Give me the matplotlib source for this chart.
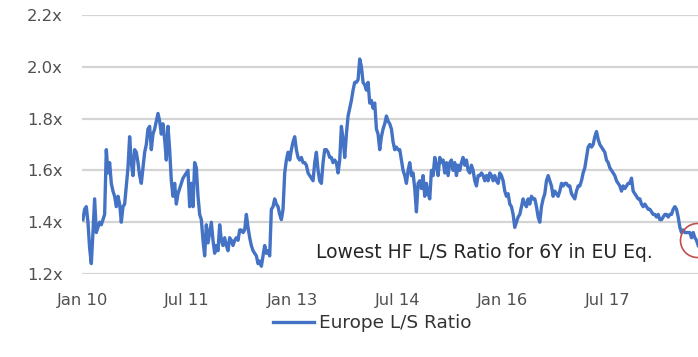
import matplotlib
matplotlib.use("Agg")
import matplotlib.pyplot as plt
import pandas as pd

# Europe hedge-fund long/short ratio, roughly weekly observations
ls_ratio = [
    1.41, 1.45, 1.46, 1.40, 1.30, 1.24, 1.36, 1.49, 1.36, 1.38, 1.40, 1.39, 1.41, 1.43, 1.68, 1.59,
    1.63, 1.55, 1.52, 1.50, 1.46, 1.50, 1.47, 1.40, 1.46, 1.47, 1.54, 1.61, 1.73, 1.63, 1.58, 1.68,
    1.67, 1.63, 1.58, 1.55, 1.61, 1.67, 1.70, 1.76, 1.77, 1.68, 1.74, 1.76, 1.79, 1.82, 1.79, 1.74,
    1.78, 1.72, 1.64, 1.77, 1.68, 1.56, 1.50, 1.55, 1.47, 1.51, 1.53, 1.55, 1.57, 1.58, 1.59, 1.60,
    1.46, 1.55, 1.46, 1.63, 1.61, 1.50, 1.43, 1.41, 1.33, 1.27, 1.39, 1.32, 1.36, 1.40, 1.33, 1.28,
    1.31, 1.29, 1.39, 1.33, 1.31, 1.34, 1.31, 1.29, 1.34, 1.33, 1.31, 1.33, 1.34, 1.33, 1.37, 1.37,
    1.36, 1.37, 1.43, 1.38, 1.34, 1.31, 1.29, 1.28, 1.27, 1.24, 1.25, 1.23, 1.27, 1.31, 1.28, 1.29,
    1.27, 1.45, 1.46, 1.49, 1.47, 1.46, 1.43, 1.41, 1.45, 1.59, 1.64, 1.67,
    1.64, 1.68, 1.71, 1.73, 1.68, 1.65, 1.64, 1.65, 1.63, 1.63, 1.62, 1.59, 1.58, 1.57, 1.56, 1.63,
    1.67, 1.60, 1.56, 1.55, 1.63, 1.68, 1.68, 1.67, 1.65, 1.65, 1.63, 1.64, 1.63, 1.59, 1.64, 1.77,
    1.72, 1.65, 1.74, 1.81, 1.84, 1.87, 1.91, 1.94, 1.94, 1.95, 2.03, 2.00, 1.94, 1.93, 1.91, 1.94,
    1.86, 1.87, 1.84, 1.86, 1.76, 1.74, 1.68, 1.73, 1.76, 1.78, 1.81, 1.79, 1.78, 1.76, 1.71, 1.68,
    1.69, 1.68,
    1.68, 1.64, 1.60, 1.58, 1.55, 1.60, 1.63, 1.58, 1.59, 1.53, 1.44, 1.55, 1.56, 1.53, 1.58, 1.50,
    1.55, 1.51, 1.49, 1.60, 1.58, 1.65, 1.62, 1.58, 1.65, 1.63, 1.64, 1.59, 1.63, 1.58, 1.63, 1.64,
    1.60, 1.63, 1.58, 1.62, 1.60, 1.63, 1.65, 1.62, 1.64, 1.60, 1.59, 1.62, 1.60, 1.56, 1.54, 1.58,
    1.58, 1.59, 1.58, 1.56, 1.58, 1.56, 1.59, 1.58, 1.56, 1.58, 1.56, 1.55,
    1.59, 1.58, 1.56, 1.52, 1.50, 1.51, 1.47, 1.46, 1.43, 1.38, 1.40, 1.42, 1.43, 1.46, 1.49, 1.47,
    1.46, 1.49, 1.47, 1.50, 1.49, 1.49, 1.46, 1.42, 1.40, 1.46, 1.49, 1.51, 1.56, 1.58, 1.56, 1.54,
    1.50, 1.52, 1.51, 1.50, 1.52, 1.55, 1.54, 1.55, 1.55, 1.54, 1.54, 1.51, 1.50, 1.49, 1.52, 1.54,
    1.54, 1.56, 1.59, 1.61, 1.65, 1.69, 1.70, 1.69, 1.70, 1.73, 1.75, 1.72,
    1.70, 1.69, 1.68, 1.67, 1.64, 1.63, 1.61, 1.60, 1.59, 1.58, 1.56, 1.55, 1.54, 1.52, 1.54, 1.53,
    1.54, 1.55, 1.55, 1.57, 1.52, 1.51, 1.50, 1.49, 1.49, 1.47, 1.46, 1.47, 1.46, 1.45, 1.45, 1.44,
    1.43, 1.43, 1.42, 1.43, 1.41, 1.41, 1.42, 1.43, 1.43, 1.42, 1.43, 1.43, 1.45, 1.46, 1.45, 1.42,
    1.38, 1.36, 1.37, 1.36, 1.36, 1.36, 1.36, 1.34, 1.36, 1.34, 1.33, 1.31,
]
series_start = "2010-01-06"
series_end = "2018-10-16"

tick_dates = ["2010-01-01", "2011-07-01", "2013-01-01", "2014-07-01", "2016-01-01", "2017-07-01"]
tick_labels = ["Jan 10", "Jul 11", "Jan 13", "Jul 14", "Jan 16", "Jul 17"]
y_ticks = [1.2, 1.4, 1.6, 1.8, 2.0, 2.2]
y_tick_labels = ["1.2x", "1.4x", "1.6x", "1.8x", "2.0x", "2.2x"]

# highlighted recent low
low_date = "2018-10-10"
low_value = 1.33

plt.rcParams["font.family"] = ["DejaVu Sans"]

dates = pd.date_range(series_start, series_end, periods=len(ls_ratio))

fig = plt.figure(figsize=(6.98, 3.57), dpi=100)
ax = fig.add_axes([82 / 698, (357 - 274) / 357, (698 - 82) / 698, (274 - 15) / 357])

blue = "#4472C4"
ax.plot(dates, ls_ratio, color=blue, lw=2.4, solid_joinstyle="round",
        label="Europe L/S Ratio", zorder=3)

ax.plot([pd.Timestamp(low_date)], [low_value], marker="o", ms=24.5, mfc="none",
        mec="#c0504d", mew=1.2, clip_on=False, zorder=4)

ax.set_ylim(1.2, 2.2)
ax.set_xlim(pd.Timestamp("2010-01-01"), pd.Timestamp("2018-10-15"))
ax.set_yticks(y_ticks)
ax.set_yticklabels(y_tick_labels)
ax.set_xticks(pd.to_datetime(tick_dates))
ax.set_xticklabels(tick_labels)

ax.yaxis.grid(True, color="#d4d4d4", lw=1.6)
ax.set_axisbelow(True)
for s in ax.spines.values():
    s.set_visible(False)
ax.tick_params(axis="both", length=0, labelsize=11.8, colors="#505050")
ax.tick_params(axis="y", pad=14)
ax.tick_params(axis="x", pad=14)

ax.text((316 - 82) / 616, (274 - 253) / 259, "Lowest HF L/S Ratio for 6Y in EU Eq.",
        transform=ax.transAxes, ha="left", va="center", fontsize=13.5,
        color="#262626")

fig.legend(loc="center left", bbox_to_anchor=(273 / 698, (357 - 323) / 357),
           frameon=False, fontsize=13.3, handlelength=2.2, handletextpad=0.3,
           borderpad=0, borderaxespad=0, labelcolor="#333333")

fig.savefig("out.png", dpi=100, facecolor="white")
